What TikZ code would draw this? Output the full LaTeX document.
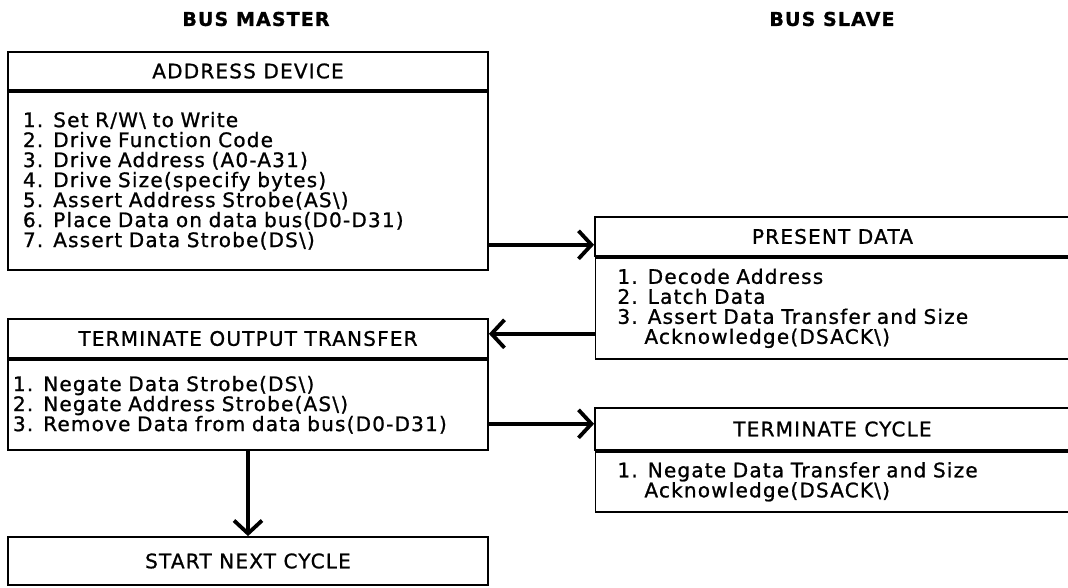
\documentclass[tikz,border=0pt]{standalone}
\usepackage{fontspec}
\setmainfont{DejaVu Sans}[LetterSpace=6,FakeBold=1]
\usetikzlibrary{arrows.meta,positioning}
\tikzset{>={Straight Barb[length=13pt,width=28pt]}}
\tikzset{
  colhead/.style={font=\bfseries\fontsize{19}{20}\selectfont},
  boxtitle/.style={draw, line width=1.8pt, inner sep=0pt, font=\fontsize{20}{20}\selectfont},
  boxbody/.style={draw, line width=1.8pt, inner ysep=0pt, align=left, font=\fontsize{20}{20}\selectfont},
  flow/.style={->, line width=3.8pt}
}

\begin{document}
\begin{tikzpicture}[x=1pt,y=1pt]
\useasboundingbox (0,0) rectangle (1068,-587);
\clip (0,0) rectangle (1068,-587);
\node[colhead] (master) at (256,-19) {BUS MASTER};
\node[colhead] (slave) at (832,-19) {BUS SLAVE};
% bus master side
\node[boxtitle, minimum width=480pt, minimum height=38pt] (adt) at (248,-71) {ADDRESS DEVICE};
\node[boxbody, below=0pt of adt, inner xsep=15pt, text width=450pt, minimum height=178pt] (adb)
  {1. Set R/W\textbackslash{} to Write\\
   2. Drive Function Code\\
   3. Drive Address (A0-A31)\\
   4. Drive Size(specify bytes)\\
   5. Assert Address Strobe(AS\textbackslash)\\
   6. Place Data on data bus(D0-D31)\\
   7. Assert Data Strobe(DS\textbackslash)};
\node[boxtitle, minimum width=480pt, minimum height=39pt] (tott) at (248,-338.5) {TERMINATE OUTPUT TRANSFER};
\node[boxbody, below=0pt of tott, inner xsep=5pt, text width=470pt, minimum height=90pt] (totb)
  {1. Negate Data Strobe(DS\textbackslash)\\
   2. Negate Address Strobe(AS\textbackslash)\\
   3. Remove Data from data bus(D0-D31)};
\node[boxtitle, minimum width=480pt, minimum height=48pt] (snc) at (248,-561) {START NEXT CYCLE};
% bus slave side
\node[boxtitle, minimum width=475pt, minimum height=39pt] (pdt) at (832.5,-236.5) {PRESENT DATA};
\node[boxbody, below=0pt of pdt, inner xsep=22pt, text width=430pt, minimum height=101pt] (pdb)
  {1. Decode Address\\
   2. Latch Data\\
   3. Assert Data Transfer and Size\\
   \phantom{3.\ }Acknowledge(DSACK\textbackslash)};
\node[boxtitle, minimum width=475pt, minimum height=42pt] (tct) at (832.5,-429) {TERMINATE CYCLE};
\node[boxbody, below=0pt of tct, inner xsep=22pt, text width=430pt, minimum height=60pt] (tcb)
  {1. Negate Data Transfer and Size\\
   \phantom{1.\ }Acknowledge(DSACK\textbackslash)};
% handshake
\draw[flow] ([yshift=-64pt]adb.east) -- ([yshift=-64pt]adb.east -| pdt.west);
\draw[flow] ([yshift=-25.5pt]pdb.west) -- ([yshift=-25.5pt]pdb.west -| tott.east);
\draw[flow] ([yshift=-19pt]totb.east) -- ([yshift=-19pt]totb.east -| tct.west);
\draw[flow] (totb.south) -- (snc.north);
\end{tikzpicture}
\end{document}
